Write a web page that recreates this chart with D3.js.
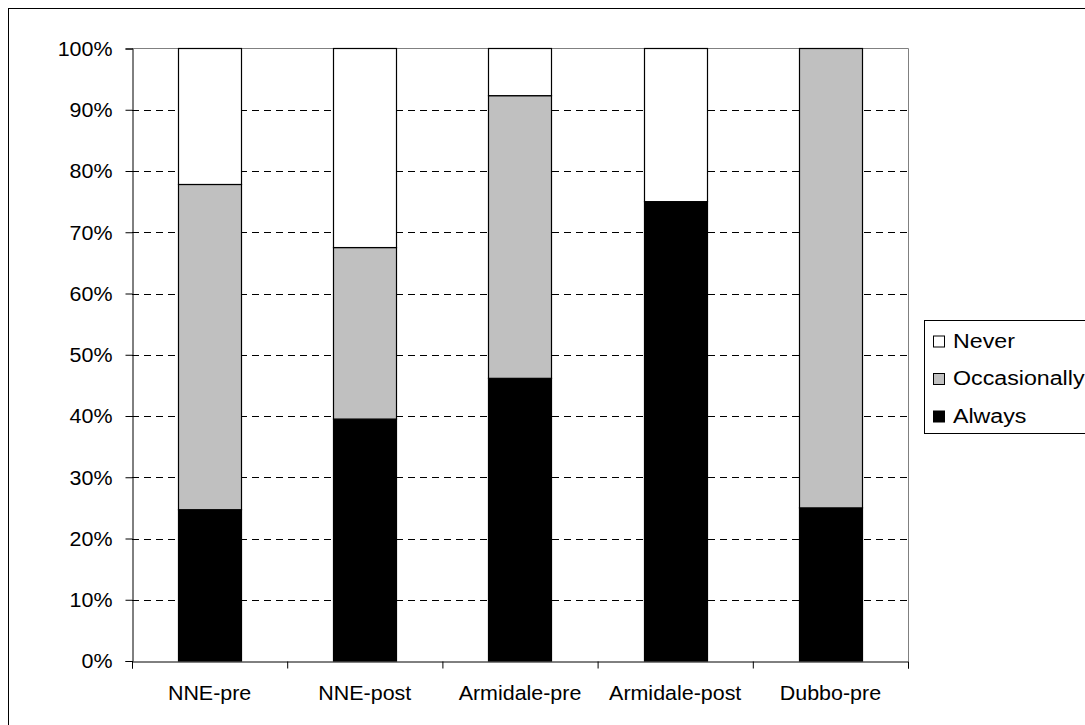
<!DOCTYPE html>
<html>
<head>
<meta charset="utf-8">
<script src="https://cdn.jsdelivr.net/npm/d3@7"></script>
<style>
  html, body { margin: 0; padding: 0; background: #fff; }
  svg { display: block; }
  text { font-family: "Liberation Sans", Arial, sans-serif; font-size: 19.5px; fill: #000; }
</style>
</head>
<body>
<svg id="chart" width="1085" height="725"></svg>
<script>
// Survey groups along the x axis
const categories = ["NNE-pre", "NNE-post", "Armidale-pre", "Armidale-post", "Dubbo-pre"];

// Share of respondents per answer (fractions of each group, stacked bottom to top)
const always       = [0.247, 0.395, 0.4615, 0.75, 0.25];
const occasionally = [0.531, 0.280, 0.4615, 0.00, 0.75];
const never        = [0.222, 0.325, 0.077, 0.25, 0.00];

const seriesNames  = ["Always", "Occasionally", "Never"];
const seriesColors = ["#000000", "#c0c0c0", "#ffffff"];
const yTicks = [0, 0.1, 0.2, 0.3, 0.4, 0.5, 0.6, 0.7, 0.8, 0.9, 1.0];

const rows = categories.map((c, i) => ({
  cat: c, Always: always[i], Occasionally: occasionally[i], Never: never[i]
}));

const svg = d3.select("#chart");
const X0 = 132, X1 = 908, Y0 = 661, Y1 = 48.5;
const STRETCH = 1.1;          // axis text drawn slightly wide
const LEGEND_STRETCH = 1.19;  // legend text a little wider still

// outer chart frame
svg.append("rect")
  .attr("x", 8.5).attr("y", 8.5).attr("width", 1100).attr("height", 730)
  .attr("fill", "#fff").attr("stroke", "#000").attr("stroke-width", 1);

const x = d3.scaleBand().domain(categories).range([X0, X1])
  .paddingInner(0.594).paddingOuter(0.297);
const y = d3.scaleLinear().domain([0, 1]).range([Y0, Y1]);
const xEdge = d3.scaleLinear().domain([0, categories.length]).range([X0, X1]);

// dashed gridlines
svg.append("g").selectAll("line")
  .data(yTicks.filter(t => t > 0 && t < 1))
  .join("line")
  .attr("x1", X0).attr("x2", X1)
  .attr("y1", d => Math.round(y(d)) + 0.5).attr("y2", d => Math.round(y(d)) + 0.5)
  .attr("stroke", "#000").attr("stroke-width", 1)
  .attr("stroke-dasharray", "7,5");

// plot-area border (top and right)
svg.append("path")
  .attr("d", `M${X0},${Y1}H${X1 + 0.5}V${Y0}`)
  .attr("fill", "none").attr("stroke", "#808080").attr("stroke-width", 1);

// stacked bars
const stack = d3.stack().keys(seriesNames)(rows);
const color = d3.scaleOrdinal().domain(seriesNames).range(seriesColors);
svg.append("g").selectAll("g")
  .data(stack).join("g")
  .attr("fill", d => color(d.key))
  .selectAll("rect")
  .data(d => d.filter(s => s[1] - s[0] > 0))
  .join("rect")
  .attr("x", d => Math.round(x(d.data.cat)) + 0.5)
  .attr("width", Math.round(x.bandwidth()))
  .attr("y", d => y(d[1]))
  .attr("height", d => y(d[0]) - y(d[1]))
  .attr("stroke", "#000").attr("stroke-width", 1.2);

// y axis
const yAxis = svg.append("g")
  .attr("transform", `translate(${X0 + 0.5},0)`)
  .call(d3.axisLeft(y).tickValues(yTicks).tickFormat(d3.format(".0%")).tickSize(7).tickPadding(0));
yAxis.select(".domain").attr("stroke", "#000");
yAxis.selectAll(".tick line").attr("stroke", "#000");
yAxis.selectAll(".tick text")
  .attr("x", null).attr("dy", "0.35em")
  .attr("transform", `translate(-20,0) scale(${STRETCH},1)`)
  .style("font-size", "19.5px").style("font-family", "Liberation Sans, Arial, sans-serif");

// x axis: baseline with ticks between groups
const xAxis = svg.append("g")
  .attr("transform", `translate(0,${Y0 + 0.5})`)
  .call(d3.axisBottom(xEdge).tickValues(d3.range(categories.length + 1)).tickFormat("").tickSize(7));
xAxis.select(".domain").attr("stroke", "#000");
xAxis.selectAll(".tick line").attr("stroke", "#000");

// category labels
svg.append("g").selectAll("text")
  .data(categories).join("text")
  .attr("text-anchor", "middle")
  .attr("transform", d => `translate(${x(d) + x.bandwidth() / 2},700) scale(${STRETCH},1)`)
  .text(d => d);

// legend
const legend = svg.append("g");
legend.append("rect")
  .attr("x", 924.5).attr("y", 320.5).attr("width", 200).attr("height", 113)
  .attr("fill", "#fff").attr("stroke", "#000").attr("stroke-width", 1);
const legendOrder = ["Never", "Occasionally", "Always"];
const li = legend.selectAll("g.item").data(legendOrder).join("g")
  .attr("class", "item")
  .attr("transform", (d, i) => `translate(933,${335.5 + i * 37.5})`);
li.append("rect")
  .attr("x", 0.5).attr("y", 0.5).attr("width", 11).attr("height", 11)
  .attr("fill", d => color(d)).attr("stroke", "#000").attr("stroke-width", 1);
li.append("text")
  .attr("transform", `translate(20,12) scale(${LEGEND_STRETCH},1)`)
  .text(d => d);
</script>
</body>
</html>
